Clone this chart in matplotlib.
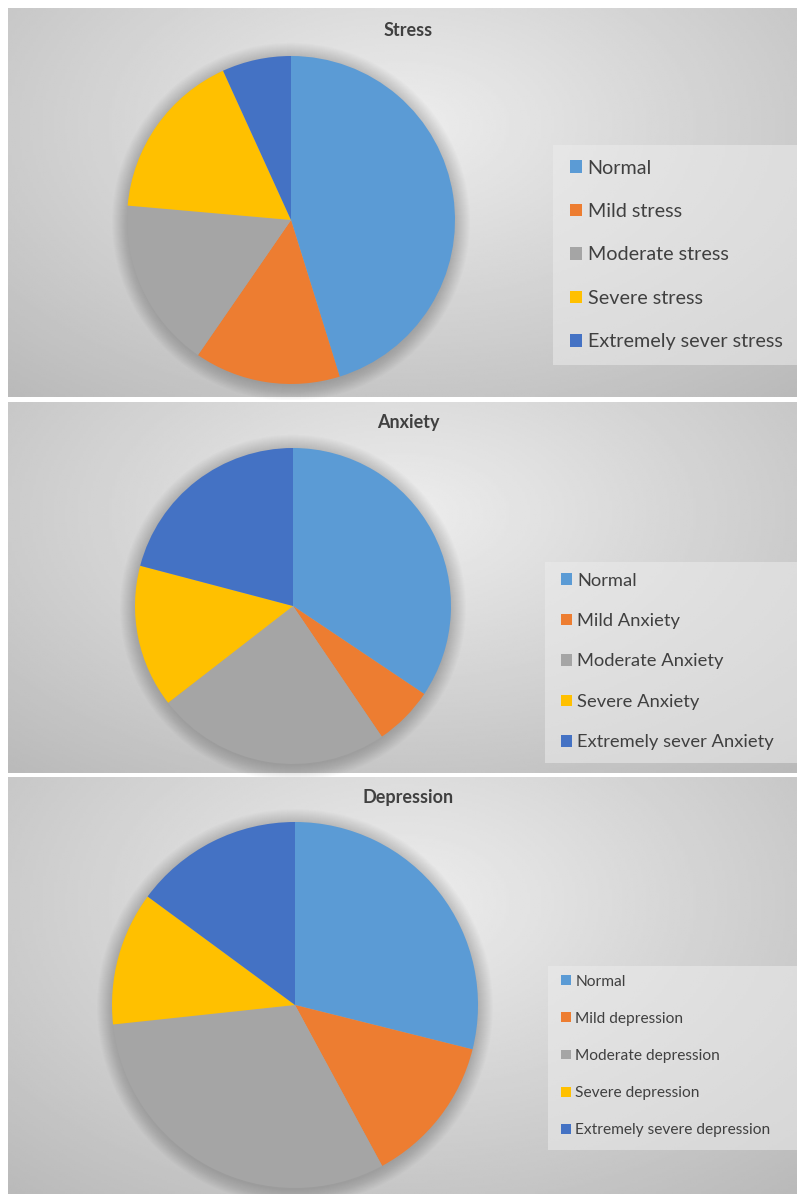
import numpy as np
import matplotlib.pyplot as plt
from matplotlib.patches import Rectangle

# shares (percent)
stress_labels = ['Normal', 'Mild stress', 'Moderate stress', 'Severe stress',
                 'Extremely sever stress']
stress_values = [45.2, 14.4, 16.8, 16.8, 6.8]

anxiety_labels = ['Normal', 'Mild Anxiety', 'Moderate Anxiety', 'Severe Anxiety',
                  'Extremely sever Anxiety']
anxiety_values = [34.4, 6.1, 24.0, 14.6, 20.9]

depression_labels = ['Normal', 'Mild depression', 'Moderate depression',
                     'Severe depression', 'Extremely severe depression']
depression_values = [28.9, 13.2, 31.2, 11.8, 14.9]

colors = ['#5B9BD5', '#ED7D31', '#A5A5A5', '#FFC000', '#4472C4']

W, H = 797, 1194
plt.rcParams['font.family'] = ['Lato', 'DejaVu Sans']


def frac(x, y, w, h):
    """pixel box (top-left origin) -> figure fraction rect"""
    return [x / W, 1 - (y + h) / H, w / W, h / H]


def background(fig, top, bottom):
    """grey panel with a soft radial gradient"""
    ax = fig.add_axes(frac(8, top, W - 8, bottom - top))
    ny, nx = 200, 300
    yy, xx = np.mgrid[0:1:ny * 1j, 0:1:nx * 1j]
    d = np.sqrt(((xx - 0.5) * 1.2) ** 2 + ((yy - 0.3) * 1.0) ** 2)
    v = 0.93 - 0.22 * d
    ax.imshow(v, cmap='gray', vmin=0, vmax=1, aspect='auto',
              extent=(0, 1, 1, 0))
    ax.set_xlim(0, 1)
    ax.set_ylim(1, 0)
    ax.set_axis_off()
    return ax


def panel(fig, title, labels, values, top, bottom, cx, cy, r, title_y,
          box, rows, fs):
    background(fig, top, bottom)
    fig.text(408 / W, 1 - title_y / H, title, ha='center', va='center',
             fontsize=13, fontweight='bold', color='#404040')

    # soft shadow behind the pie
    pad = 16
    sh = fig.add_axes(frac(cx - r - pad, cy - r - pad, 2 * (r + pad),
                           2 * (r + pad)))
    sh.set_xlim(-1, 1)
    sh.set_ylim(-1, 1)
    sh.set_axis_off()
    for k in range(16):
        rr = (r + k) / (r + pad)
        sh.add_patch(plt.Circle((0, -0.01), rr, color='k', alpha=0.012,
                                lw=0))

    ax = fig.add_axes(frac(cx - r, cy - r, 2 * r, 2 * r))
    wedges, _ = ax.pie(values, colors=colors, startangle=90,
                       counterclock=False, radius=1,
                       wedgeprops=dict(linewidth=0))
    ax.set_xlim(-1, 1)
    ax.set_ylim(-1, 1)

    bx, by, bw, bh = box
    fig.patches.append(Rectangle((bx / W, 1 - (by + bh) / H), bw / W, bh / H,
                                 transform=fig.transFigure,
                                 facecolor='#ececec', alpha=0.55,
                                 edgecolor='none'))
    y0, pitch = rows
    fs_px = fs * 100 / 72
    leg = fig.legend(wedges, labels, loc='center left',
                     bbox_to_anchor=(bx / W, 1 - (y0 + 2 * pitch) / H),
                     frameon=False, fontsize=fs, handlelength=0.6,
                     handleheight=0.6, handletextpad=0.3,
                     labelspacing=(pitch - 0.89 * fs_px) / fs_px,
                     borderpad=0.3, borderaxespad=0.55)
    for t in leg.get_texts():
        t.set_color('#404040')


fig = plt.figure(figsize=(W / 100, H / 100), dpi=100)
fig.patch.set_facecolor('white')

panel(fig, 'Stress', stress_labels, stress_values, 8, 397,
      291, 220, 164, 30, (553, 145, 244, 220), (167, 44), 14.2)
panel(fig, 'Anxiety', anxiety_labels, anxiety_values, 402, 773,
      293, 606, 158, 423, (545, 562, 252, 201), (580, 40.7), 13.2)
panel(fig, 'Depression', depression_labels, depression_values, 777, 1194,
      295, 1005, 183, 798, (548, 966, 249, 184), (982, 37), 11.2)

fig.savefig('out.png', dpi=100)
